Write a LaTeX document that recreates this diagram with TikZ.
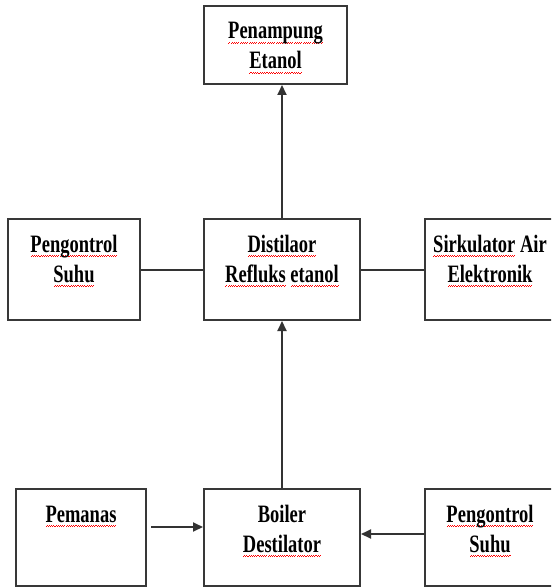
\documentclass[tikz,border=0pt]{standalone}
\usepackage{fontspec}
\usetikzlibrary{arrows.meta}
\newfontfamily\lblfont[FakeStretch=0.74]{Liberation Serif}
\newsavebox\sqbox
\newcommand\sqw[1]{\sbox\sqbox{#1}\rlap{\textcolor{red}{\raisebox{-5pt}{\hbox to \wd\sqbox{\xleaders\hbox{\rule{1.1pt}{1.1pt}\raisebox{1pt}{\rule{1.1pt}{1.1pt}}}\hfil}}}}\usebox\sqbox}
\tikzset{
  boxnode/.style={draw=black!78, line width=2pt, rectangle, inner sep=0pt},
  lbl/.style={anchor=base, inner sep=0pt, font=\lblfont\bfseries\fontsize{25}{30}\selectfont, text=black},
  conn/.style={draw=black!80, line width=2pt},
  arr/.style={conn, -{Triangle[length=10pt,width=9pt]}}
}
\begin{document}
\begin{tikzpicture}[x=1pt,y=-1pt]
\useasboundingbox (0,0) rectangle (551,588);
\fill[white] (0,0) rectangle (551,588);
\clip (0,0) rectangle (551,588);
% boxes
\node[boxnode, minimum width=143pt, minimum height=78pt] (top) at (275.5,45) {};
\node[boxnode, minimum width=132pt, minimum height=101pt] (midL) at (74,269.5) {};
\node[boxnode, minimum width=156pt, minimum height=101pt] (midC) at (282,269.5) {};
\node[boxnode, minimum width=130pt, minimum height=101pt] (midR) at (490,269.5) {};
\node[boxnode, minimum width=130pt, minimum height=97pt] (botL) at (81,537.5) {};
\node[boxnode, minimum width=156pt, minimum height=97pt] (botC) at (282,537.5) {};
\node[boxnode, minimum width=130pt, minimum height=97pt] (botR) at (490,537.5) {};
% labels
\node[lbl] (t1a) at (275.5,39) {\sqw{Penampung}};
\node[lbl] (t1b) at (275.5,69) {\sqw{Etanol}};
\node[lbl] (t2a) at (74,252) {\sqw{Pengontrol}};
\node[lbl] (t2b) at (74,282) {\sqw{Suhu}};
\node[lbl] (t3a) at (282,252) {\sqw{Distilaor}};
\node[lbl] (t3b) at (282,282) {\sqw{Refluks} \sqw{etanol}};
\node[lbl] (t4a) at (490,252) {\sqw{Sirkulator} Air};
\node[lbl] (t4b) at (490,282) {\sqw{Elektronik}};
\node[lbl] (t5a) at (81,522) {\sqw{Pemanas}};
\node[lbl] (t6a) at (282,522) {Boiler};
\node[lbl] (t6b) at (282,552) {\sqw{Destilator}};
\node[lbl] (t7a) at (490,522) {\sqw{Pengontrol}};
\node[lbl] (t7b) at (490,552) {\sqw{Suhu}};
% connectors
\draw[arr] (midC.north) -- (midC.north |- top.south);
\draw[conn] (midL.east) -- (midC.west);
\draw[conn] (midC.east) -- (midR.west);
\draw[arr] (botC.north) -- (midC.south);
\coordinate (p1) at (151,527);
\draw[arr] (p1) -- (p1 -| botC.west);
\coordinate (p2) at (425,534);
\draw[arr] (p2) -- (p2 -| botC.east);
\end{tikzpicture}
\end{document}
